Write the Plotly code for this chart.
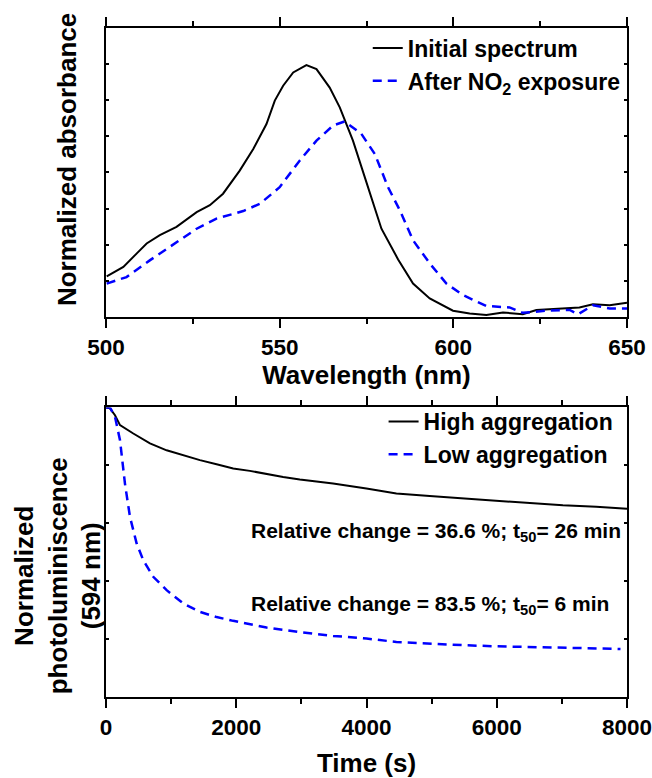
import plotly.graph_objects as go

# ---------------- Data: top panel (absorbance) ----------------
wl_initial = [500.2, 505, 508.8, 511.7, 515.5, 520.3, 526.1, 529.9, 533.7, 538.5, 542.4, 546.2,
              548.6, 551, 553.9, 557.7, 560.6, 564.4, 567.3, 569.5, 571.1, 574.5, 579.3,
              584.1, 588.4, 593.2, 599.9, 604.7, 609.5, 614.3, 620, 623.9,
              631.5, 636.3, 640.2, 645, 650]
abs_initial = [1.12, 1.38, 1.75, 2.03, 2.26, 2.49, 2.90, 3.09, 3.41, 4.05, 4.65, 5.34,
               5.99, 6.40, 6.77, 6.97, 6.86, 6.35, 5.80, 5.25, 4.88, 3.87, 2.44,
               1.59, 0.92, 0.51, 0.17, 0.09, 0.05, 0.12, 0.07, 0.19,
               0.23, 0.26, 0.35, 0.32, 0.39]

wl_no2 = [500.2, 505.9, 512.7, 518.4, 526.1, 531.8, 539.5, 544.3, 550, 555.8, 560.6, 565.4,
          568.7, 573.5, 577.4, 581.2, 584.6, 588.4, 593.2, 598,
          602.8, 609.5, 616.2, 620, 626.8, 633.5, 635.9, 640.2, 645, 650]
abs_no2 = [0.92, 1.10, 1.57, 1.93, 2.44, 2.72, 2.93, 3.13, 3.59, 4.33, 4.88, 5.30,
           5.41, 5.07, 4.51, 3.59, 2.95, 2.12, 1.48, 0.92,
           0.60, 0.30, 0.26, 0.11, 0.17, 0.19, 0.07, 0.32, 0.23, 0.23]

# ---------------- Data: bottom panel (photoluminescence) ----------------
t_high = [0, 61, 138, 215, 419, 675, 931, 1186, 1442, 1698, 1953, 2209, 2465, 2720, 2976,
          3487, 3999, 4459, 4970, 5481, 5993, 6504, 7015, 7527, 7961, 8000]
pl_high = [1.0, 0.997, 0.973, 0.939, 0.910, 0.876, 0.852, 0.835, 0.818, 0.804, 0.789, 0.781,
           0.770, 0.760, 0.751, 0.737, 0.720, 0.703, 0.694, 0.686, 0.677, 0.670, 0.662,
           0.657, 0.651, 0.650]

t_low = [0, 61, 138, 215, 291, 368, 471, 573, 726, 931, 1186, 1442, 1698, 1953, 2465,
         2976, 3487, 3999, 4459, 4970, 5481, 5993, 6504, 7015, 7500, 7900]
pl_low = [1.0, 1.0, 0.968, 0.887, 0.737, 0.622, 0.530, 0.472, 0.415, 0.369, 0.323, 0.294,
          0.276, 0.263, 0.240, 0.224, 0.211, 0.202, 0.190, 0.184, 0.179, 0.175, 0.173,
          0.171, 0.168, 0.166]

top_names = ["Initial spectrum", "After NO<sub>2</sub> exposure"]
bottom_names = ["High aggregation", "Low aggregation"]
annot_texts = ["Relative change = 36.6 %; t<sub>50</sub>= 26 min",
               "Relative change = 83.5 %; t<sub>50</sub>= 6 min"]
y_titles = ["Normalized absorbance", "Normalized<br>photoluminiscence<br>(594 nm)"]
x_titles = ["Wavelength (nm)", "Time (s)"]

FONT = "Liberation Sans, Arial, sans-serif"
BLACK = "#000000"
BLUE = "#0000ff"

fig = go.Figure()

fig.add_trace(go.Scatter(x=wl_initial, y=abs_initial, mode="lines", name=top_names[0],
                         line=dict(color=BLACK, width=2), xaxis="x", yaxis="y", legend="legend"))
fig.add_trace(go.Scatter(x=wl_no2, y=abs_no2, mode="lines", name=top_names[1],
                         line=dict(color=BLUE, width=2.5, dash="9px,6px"), xaxis="x", yaxis="y",
                         legend="legend"))
fig.add_trace(go.Scatter(x=t_high, y=pl_high, mode="lines", name=bottom_names[0],
                         line=dict(color=BLACK, width=2), xaxis="x2", yaxis="y2", legend="legend2"))
fig.add_trace(go.Scatter(x=t_low, y=pl_low, mode="lines", name=bottom_names[1],
                         line=dict(color=BLUE, width=2.5, dash="9px,6px"), xaxis="x2", yaxis="y2",
                         legend="legend2"))

axis_common = dict(showline=True, linecolor=BLACK, linewidth=2, mirror="ticks",
                   showgrid=False, zeroline=False, tickcolor=BLACK, automargin=False,
                   ticklabeloverflow="allow",
                   tickfont=dict(family=FONT, size=22.5, color=BLACK, weight="bold"))
title_font = dict(family=FONT, size=26, color=BLACK, weight="bold")

fig.update_layout(
    width=652, height=778,
    margin=dict(l=106, r=25, t=28, b=81),
    paper_bgcolor="white", plot_bgcolor="white",
    font=dict(family=FONT, color=BLACK, weight="bold"),
    xaxis=dict(domain=[0, 1], anchor="y", range=[500, 650], dtick=50, tick0=500,
               ticks="outside", ticklen=9, tickwidth=2,
               minor=dict(dtick=25, ticks="outside", ticklen=5, tickwidth=2, tickcolor=BLACK),
               title=dict(text=x_titles[0], font=title_font, standoff=4),
               **axis_common),
    yaxis=dict(domain=[0.5683, 1], anchor="x", range=[0, 8], dtick=1,
               ticks="inside", ticklen=3, tickwidth=1.5, showticklabels=False,
               **axis_common),
    xaxis2=dict(domain=[0, 1], anchor="y2", range=[0, 8000], dtick=2000, tick0=0,
                ticks="outside", ticklen=9, tickwidth=2,
                minor=dict(dtick=1000, ticks="outside", ticklen=5, tickwidth=2, tickcolor=BLACK),
                title=dict(text=x_titles[1], font=title_font, standoff=19),
                **axis_common),
    yaxis2=dict(domain=[0, 0.4328], anchor="x2", range=[0, 1], dtick=0.2,
                ticks="inside", ticklen=3, tickwidth=1.5, showticklabels=False,
                **axis_common),
    legend=dict(x=0.5024, y=1.0023, xanchor="left", yanchor="top",
                bgcolor="rgba(0,0,0,0)", borderwidth=0, tracegroupgap=0,
                font=dict(family=FONT, size=23, color=BLACK, weight="bold")),
    legend2=dict(x=0.5328, y=0.444, xanchor="left", yanchor="top",
                 bgcolor="rgba(0,0,0,0)", borderwidth=0, tracegroupgap=0,
                 font=dict(family=FONT, size=23, color=BLACK, weight="bold")),
    showlegend=True,
)

# y-axis titles (rotated text)
fig.add_annotation(text=y_titles[0], xref="paper", yref="paper", x=-0.0748, y=0.8026,
                   xanchor="center", yanchor="middle", textangle=-90, showarrow=False,
                   font=title_font)
fig.add_annotation(text=y_titles[1], xref="paper", yref="paper", x=-0.0921, y=0.1805,
                   xanchor="center", yanchor="middle", textangle=-90, showarrow=False,
                   font=title_font)

for txt, ypos in zip(annot_texts, [0.2467, 0.137]):
    fig.add_annotation(text=txt, xref="paper", yref="paper", x=0.2742, y=ypos,
                       xanchor="left", yanchor="middle", showarrow=False,
                       font=dict(family=FONT, size=21, color=BLACK, weight="bold"))

# remove the browser's default body margin so the figure fills the window exactly
fig.write_html("out.html", config={"displayModeBar": False},
               post_script="document.body.style.margin='0';")
